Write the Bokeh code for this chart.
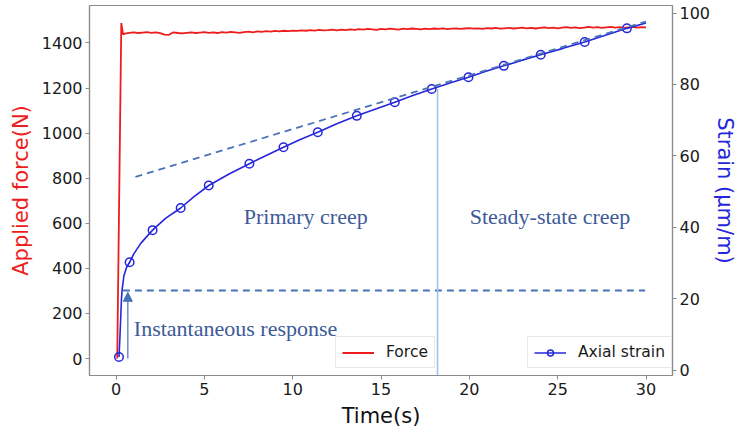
from bokeh.plotting import figure
from bokeh.models import Range1d, LinearAxis, Legend, LegendItem, Arrow, NormalHead, Label, FixedTicker
from bokeh.embed import file_html
from bokeh.resources import INLINE

# ---------------- data ----------------
time_ticks = [0, 5, 10, 15, 20, 25, 30]
force_ticks = [0, 200, 400, 600, 800, 1000, 1200, 1400]
strain_ticks = [0, 20, 40, 60, 80, 100]

# force record: loading ramp, overshoot, then a 0.25 s sampled plateau
force_ramp_time = [0.07, 0.3, 0.4]
force_ramp_value = [0, 1488, 1438]
force_plateau_value = [
    1441, 1445, 1447, 1444, 1446, 1448, 1445, 1447, 1443, 1437, 1436, 1447, 1444, 1442,
    1445, 1447, 1444, 1446, 1448, 1445, 1447, 1444, 1448, 1446, 1449, 1447, 1445, 1448,
    1450, 1447, 1451, 1449, 1452, 1450, 1453, 1451, 1454, 1452, 1455, 1453, 1456, 1454,
    1457, 1455, 1458, 1456, 1457, 1459, 1456, 1459, 1457, 1460, 1458, 1461, 1459, 1462,
    1460, 1458, 1462, 1460, 1463, 1461, 1459, 1463, 1461, 1464, 1462, 1460, 1463, 1461,
    1464, 1462, 1465, 1461, 1463, 1465, 1462, 1464, 1466, 1463, 1465, 1462, 1466, 1464,
    1467, 1463, 1465, 1467, 1464, 1466, 1468, 1465, 1467, 1464, 1467, 1469, 1466, 1468,
    1465, 1468, 1470, 1467, 1469, 1466, 1468, 1471, 1468, 1470, 1467, 1469, 1471, 1468,
    1470, 1467, 1469, 1471, 1468, 1470, 1469]
force_plateau_time = [0.5 + 0.25 * i for i in range(len(force_plateau_value))]
force_time = force_ramp_time + force_plateau_time
force_value = force_ramp_value + force_plateau_value

strain_time = [0.17, 0.22, 0.27, 0.31, 0.35, 0.45, 0.6, 0.77, 1.0, 1.4, 2.07, 2.8, 3.66, 4.4,
               5.25, 6.4, 7.55, 8.5, 9.48, 10.4, 11.42, 12.5, 13.63, 14.7, 15.78, 16.8, 17.87,
               18.9, 19.95, 20.9, 21.95, 23.0, 24.04, 25.3, 26.53, 27.7, 28.92, 30.0]
strain_value = [3.7, 9.0, 15.0, 20.0, 22.7, 26.5, 28.8, 30.2, 32.5, 35.5, 39.2, 42.5, 45.4, 48.5,
                51.7, 54.9, 57.8, 60.1, 62.4, 64.5, 66.6, 69.0, 71.2, 73.1, 75.0, 76.9, 78.7,
                80.4, 82.0, 83.6, 85.2, 86.8, 88.3, 90.1, 91.9, 93.8, 95.7, 97.2]

marker_time = [0.17, 0.77, 2.07, 3.66, 5.25, 7.55, 9.48, 11.42, 13.63, 15.78, 17.87,
               19.95, 21.95, 24.04, 26.53, 28.92]
marker_strain = [3.7, 30.2, 39.2, 45.4, 51.7, 57.8, 62.4, 66.6, 71.2, 75.0, 78.7,
                 82.0, 85.2, 88.3, 91.9, 95.7]

steady_fit_time = [1.1, 30.0]
steady_fit_strain = [54.1, 97.6]
instant_time = [0.39, 29.95]
instant_strain = [22.3, 22.3]
boundary_time = [18.2, 18.2]
boundary_strain = [-1.5, 78.7]

# ---------------- styling ----------------
RED = "#ee1c1c"
BLUE = "#2626dc"
ANNOT = "#4a72b8"
TEXT = "#3d5a98"
SPINE = "#8c8c8c"
FONT = "DejaVu Sans"

p = figure(width=740, height=430, output_backend="svg", toolbar_location=None,
           x_range=Range1d(-1.5, 31.5), y_range=Range1d(-75, 1566),
           min_border_left=89, min_border_right=63, min_border_top=5, min_border_bottom=53)
p.extra_y_ranges = {"strain": Range1d(-1.5, 102.1)}
p.add_layout(LinearAxis(y_range_name="strain"), "right")

p.xgrid.visible = False
p.ygrid.visible = False
p.outline_line_color = SPINE
p.outline_line_width = 1.2
p.background_fill_color = "white"
p.border_fill_color = "white"

p.xaxis.axis_label = "Time(s)"
p.xaxis.ticker = FixedTicker(ticks=time_ticks)
p.yaxis[0].axis_label = "Applied force(N)"
p.yaxis[0].ticker = FixedTicker(ticks=force_ticks)
p.yaxis[0].axis_label_text_color = RED
p.yaxis[1].axis_label = "Strain (μm/m)"
p.yaxis[1].ticker = FixedTicker(ticks=strain_ticks)
p.yaxis[1].axis_label_text_color = BLUE
p.xaxis.axis_label_text_color = "#111111"

for ax in list(p.xaxis) + list(p.yaxis):
    ax.axis_line_color = SPINE
    ax.axis_line_width = 1.2
    ax.major_tick_line_color = SPINE
    ax.major_tick_in = 0
    ax.major_tick_out = 4
    ax.minor_tick_line_color = None
    ax.major_label_text_font = FONT
    ax.major_label_text_font_size = "16px"
    ax.major_label_text_color = "#1a1a1a"
    ax.major_label_standoff = 3
    ax.axis_label_text_font = FONT
    ax.axis_label_text_font_size = "21px"
    ax.axis_label_text_font_style = "normal"
    ax.axis_label_standoff = 6
p.yaxis[1].major_label_standoff = 3
p.yaxis[1].axis_label_standoff = 0

# ---------------- glyphs ----------------
force_r = p.line(force_time, force_value, line_color=RED, line_width=1.8)

strain_line = p.line(strain_time, strain_value, line_color=BLUE, line_width=1.6,
                     y_range_name="strain")
strain_pts = p.scatter(marker_time, marker_strain, marker="circle", size=8.5,
                       fill_color=None, line_color=BLUE, line_width=1.5,
                       y_range_name="strain")

p.line(steady_fit_time, steady_fit_strain, line_color=ANNOT, line_width=1.8,
       line_dash="7 5", y_range_name="strain")
p.line(instant_time, instant_strain, line_color=ANNOT, line_width=1.8,
       line_dash="7 5", y_range_name="strain")
p.line(boundary_time, boundary_strain, line_color="#a3c2e2", line_width=1.6,
       y_range_name="strain")

p.add_layout(Arrow(end=NormalHead(size=9, fill_color=ANNOT, line_color=ANNOT),
                   x_start=0.67, y_start=0, x_end=0.67, y_end=294,
                   line_color=ANNOT, line_width=1.2))

for txt, x, y in [("Primary creep", 7.23, 631), ("Steady-state creep", 20.02, 631),
                  ("Instantaneous response", 1.01, 132)]:
    p.add_layout(Label(x=x, y=y, text=txt, text_font="Liberation Serif",
                       text_font_size="22px", text_color=TEXT,
                       text_baseline="alphabetic"))

def make_legend(items, loc):
    leg = Legend(items=items, location=loc)
    leg.label_text_font = FONT
    leg.label_text_font_size = "15.5px"
    leg.label_text_color = "#1a1a1a"
    leg.glyph_width = 32
    leg.glyph_height = 15
    leg.label_height = 15
    leg.label_standoff = 12
    leg.padding = 6
    leg.spacing = 0
    leg.margin = 0
    leg.border_line_color = "#cfcfcf"
    leg.border_line_width = 1
    leg.background_fill_alpha = 0.9
    return leg

p.add_layout(make_legend([LegendItem(label="Force", renderers=[force_r])], (246, 7)))
p.add_layout(make_legend([LegendItem(label="Axial strain", renderers=[strain_line, strain_pts])], (438, 7)))

open("out.html", "w").write(file_html(p, INLINE))
